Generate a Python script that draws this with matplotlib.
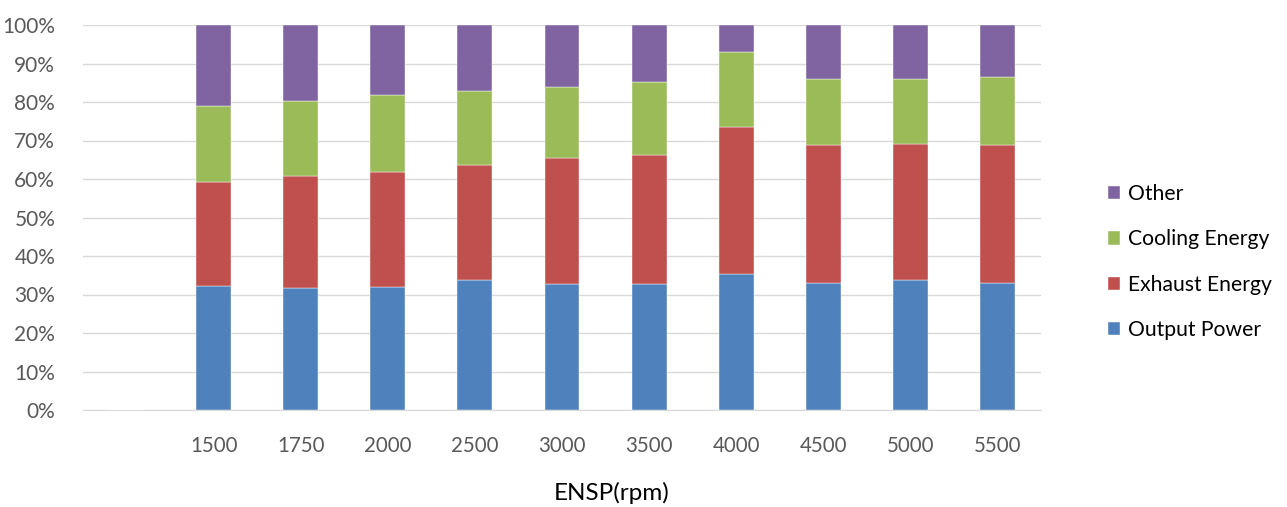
import numpy as np
import matplotlib.pyplot as plt
from matplotlib.ticker import PercentFormatter

# first category is blank in the original chart
speeds = ['', '1500', '1750', '2000', '2500', '3000', '3500', '4000', '4500', '5000', '5500']
output_power = [0, 32.1, 31.6, 31.9, 33.7, 32.8, 32.6, 35.2, 32.9, 33.7, 33.1]
exhaust_energy = [0, 27.0, 29.1, 29.8, 30.0, 32.6, 33.7, 38.4, 36.0, 35.4, 35.8]
cooling_energy = [0, 19.8, 19.5, 20.2, 19.2, 18.4, 18.8, 19.4, 17.1, 16.9, 17.5]
other = [0, 21.1, 19.8, 18.1, 17.1, 16.2, 14.9, 7.0, 14.0, 14.0, 13.6]

colors = ['#4f81bd', '#c0504d', '#9bbb59', '#8064a2']
names = ['Output Power', 'Exhaust Energy', 'Cooling Energy', 'Other']
series = [output_power, exhaust_energy, cooling_energy, other]

plt.rcParams['font.family'] = ['Lato', 'DejaVu Sans']

fig = plt.figure(figsize=(12.87, 5.07), dpi=100)
ax = fig.add_axes([83 / 1287, 1 - 410 / 507, 958 / 1287, 385 / 507])

x = np.arange(len(speeds))
bottom = np.zeros(len(speeds))
handles = []
for vals, c, name in zip(series, colors, names):
    vals = np.array(vals, dtype=float)
    h = ax.bar(x, vals, width=0.4, bottom=bottom, color=c, label=name,
               edgecolor='white', linewidth=0.3, zorder=3)
    handles.append(h)
    bottom += vals

ax.set_xlim(-0.5, len(speeds) - 0.5)
ax.set_ylim(0, 100)
ax.set_yticks(np.arange(0, 101, 10))
ax.yaxis.set_major_formatter(PercentFormatter(decimals=0))
ax.set_xticks(x)
ax.set_xticklabels(speeds)
ax.tick_params(axis='x', length=0, labelsize=14.8, colors='#595959', pad=19)
ax.tick_params(axis='y', length=0, labelsize=15, colors='#595959', pad=20)
ax.grid(axis='y', color='#d9d9d9', linewidth=1, zorder=0)
for s in ['top', 'right', 'left']:
    ax.spines[s].set_visible(False)
ax.spines['bottom'].set_color('#d9d9d9')

fig.text(612 / 1287, 1 - 493 / 507, 'ENSP(rpm)', fontsize=17.5, color='#000000',
         ha='center', va='center')

fig.legend(handles[::-1], names[::-1], loc='center left',
           bbox_to_anchor=(1093 / 1287, 1 - 262 / 507), frameon=False,
           fontsize=15.2, handlelength=0.6, handleheight=0.6, handletextpad=0.35,
           labelspacing=1.2, borderpad=0.2)

fig.savefig('out.png', dpi=100)
